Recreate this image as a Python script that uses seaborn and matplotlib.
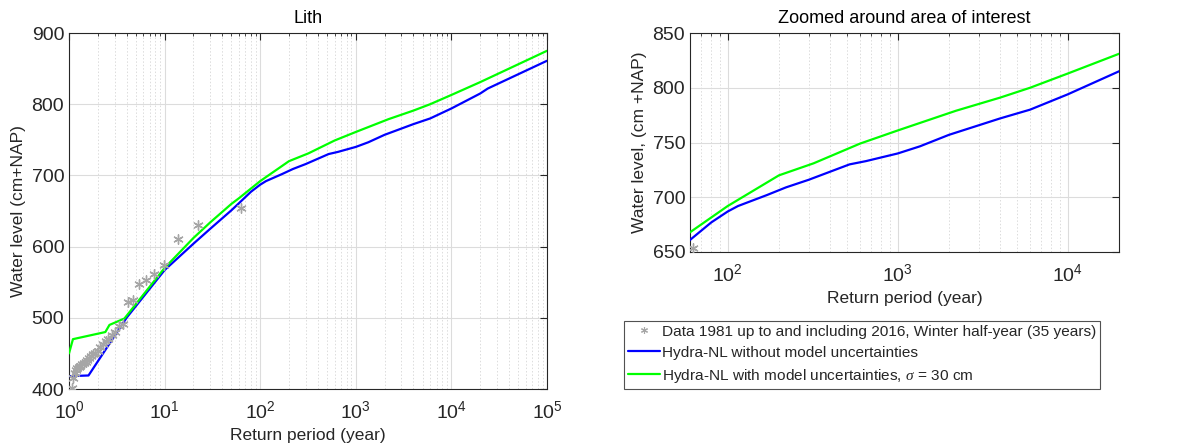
import numpy as np
import pandas as pd
import matplotlib
matplotlib.use("Agg")
import matplotlib.pyplot as plt
import seaborn as sns
from matplotlib.lines import Line2D
from matplotlib.ticker import LogLocator, NullFormatter

# ---------------- data ----------------
# observed annual maxima (return period, level)
data_T = [62.71, 22.51, 13.72, 9.865, 7.702, 6.317, 5.356, 4.646, 4.098, 3.674,
          3.326, 3.037, 2.793, 2.586, 2.412, 2.257, 2.120, 2.000, 1.893, 1.796,
          1.708, 1.628, 1.556, 1.489, 1.428, 1.371, 1.319, 1.270, 1.225, 1.183,
          1.144, 1.107, 1.073]
data_h = [654, 631, 610, 574, 562, 553, 547, 525, 522, 491,
          489, 480, 476, 470, 467, 463, 459, 454, 451, 449,
          447, 444, 441, 438, 437, 435, 433, 431, 429, 426,
          423, 416, 401]

# Hydra-NL without model uncertainties
blue_T = [1, 1.6, 4, 10, 20, 30, 50, 60, 80, 100, 115, 170, 220, 300, 520, 650,
          1000, 1350, 2000, 4000, 6000, 10000, 20000, 24000, 100000]
blue_h = [418, 419, 500, 567, 604, 625, 651, 661, 677, 687, 692, 702, 709, 716, 730, 733,
          740, 746.5, 757, 772, 780, 794, 815, 822, 861]

# Hydra-NL with model uncertainties
green_T = [1, 1.1, 2.4, 2.65, 3.8, 10, 20, 30, 50, 60, 100, 200, 320, 600, 1000,
           2200, 4000, 6000, 10000, 20000, 100000]
green_h = [450, 470, 480, 490, 499, 570, 612, 634, 660, 668, 692, 720, 731, 749, 761,
           779, 791, 800, 813, 831, 875]

lbl_data = "Data 1981 up to and including 2016, Winter half-year (35 years)"
lbl_blue = "Hydra-NL without model uncertainties"
lbl_green = r"Hydra-NL with model uncertainties, $\sigma$ = 30 cm"

df_data = pd.DataFrame({"T": data_T, "h": data_h})
df_blue = pd.DataFrame({"T": blue_T, "h": blue_h})
df_green = pd.DataFrame({"T": green_T, "h": green_h})

# ---------------- style ----------------
sns.set_style("white")
plt.rcParams["font.family"] = ["Liberation Sans", "DejaVu Sans"]
plt.rcParams["mathtext.fontset"] = "custom"
plt.rcParams["mathtext.rm"] = "Liberation Sans"
plt.rcParams["mathtext.it"] = "Liberation Serif:italic"

W, H = 1181, 443
fig = plt.figure(figsize=(W / 100, H / 100), dpi=100)
fig.patch.set_facecolor("white")

def fax(x0, y0, x1, y1):
    return [x0 / W, 1 - y1 / H, (x1 - x0) / W, (y1 - y0) / H]

ax1 = fig.add_axes(fax(69, 33, 547, 389))
ax2 = fig.add_axes(fax(690, 33, 1119, 252))

DARK = "#262626"
BLUE = "#0000ff"
GREEN = "#00ff00"
GRAY = "#a6a6a6"
star = (6, 2, 0)

for ax in (ax1, ax2):
    sns.lineplot(data=df_blue, x="T", y="h", ax=ax, color=BLUE, lw=1.6,
                 estimator=None, sort=False, zorder=3)
    sns.lineplot(data=df_green, x="T", y="h", ax=ax, color=GREEN, lw=1.6,
                 estimator=None, sort=False, zorder=3)
    sns.scatterplot(data=df_data, x="T", y="h", ax=ax, marker=star, s=45,
                    color=GRAY, linewidth=1.0, edgecolor=GRAY, zorder=4)
    ax.set_xscale("log")
    ax.xaxis.set_minor_locator(LogLocator(base=10, subs=np.arange(2, 10)))
    ax.xaxis.set_minor_formatter(NullFormatter())
    ax.grid(True, which="major", color="#dcdcdc", lw=0.8)
    ax.grid(True, which="minor", axis="x", color="#dcdcdc", lw=0.7, ls=(0, (1.5, 2)))
    ax.set_axisbelow(True)
    for s in ax.spines.values():
        s.set_color(DARK)
        s.set_linewidth(0.8)
    ax.tick_params(which="both", direction="in", top=True, right=True,
                   colors=DARK, labelsize=14)
    ax.tick_params(which="major", length=5)
    ax.tick_params(which="minor", length=2.5)
    ax.tick_params(axis="x", which="major", pad=8)
    ax.set_xlabel("Return period (year)", fontsize=12.5, color=DARK, labelpad=4)

ax1.set_xlim(1, 1e5)
ax1.set_ylim(400, 900)
ax1.set_yticks([400, 500, 600, 700, 800, 900])
ax1.set_ylabel("Water level (cm+NAP)", fontsize=12.5, color=DARK, labelpad=4)
ax1.set_title("Lith", fontsize=13, color="black", pad=7)

ax2.set_xlim(60, 2e4)
ax2.set_ylim(650, 850)
ax2.set_yticks([650, 700, 750, 800, 850])
ax2.set_ylabel("Water level, (cm +NAP)", fontsize=12.5, color=DARK, labelpad=4)
ax2.set_title("Zoomed around area of interest", fontsize=13, color="black", pad=7)

handles = [
    Line2D([], [], ls="none", marker=star, color=GRAY, markersize=5, markeredgewidth=0.8),
    Line2D([], [], color=BLUE, lw=1.6),
    Line2D([], [], color=GREEN, lw=1.6),
]
leg = fig.legend(handles, [lbl_data, lbl_blue, lbl_green],
                 loc="upper left", bbox_to_anchor=(624 / W, 1 - 321 / H),
                 frameon=True, fancybox=False, fontsize=11.1,
                 borderaxespad=0, borderpad=0.25, handlelength=2.1,
                 handletextpad=0.1, labelspacing=0.45)
leg.get_frame().set_edgecolor(DARK)
leg.get_frame().set_linewidth(0.8)

fig.savefig("out.png", dpi=100, facecolor="white")
